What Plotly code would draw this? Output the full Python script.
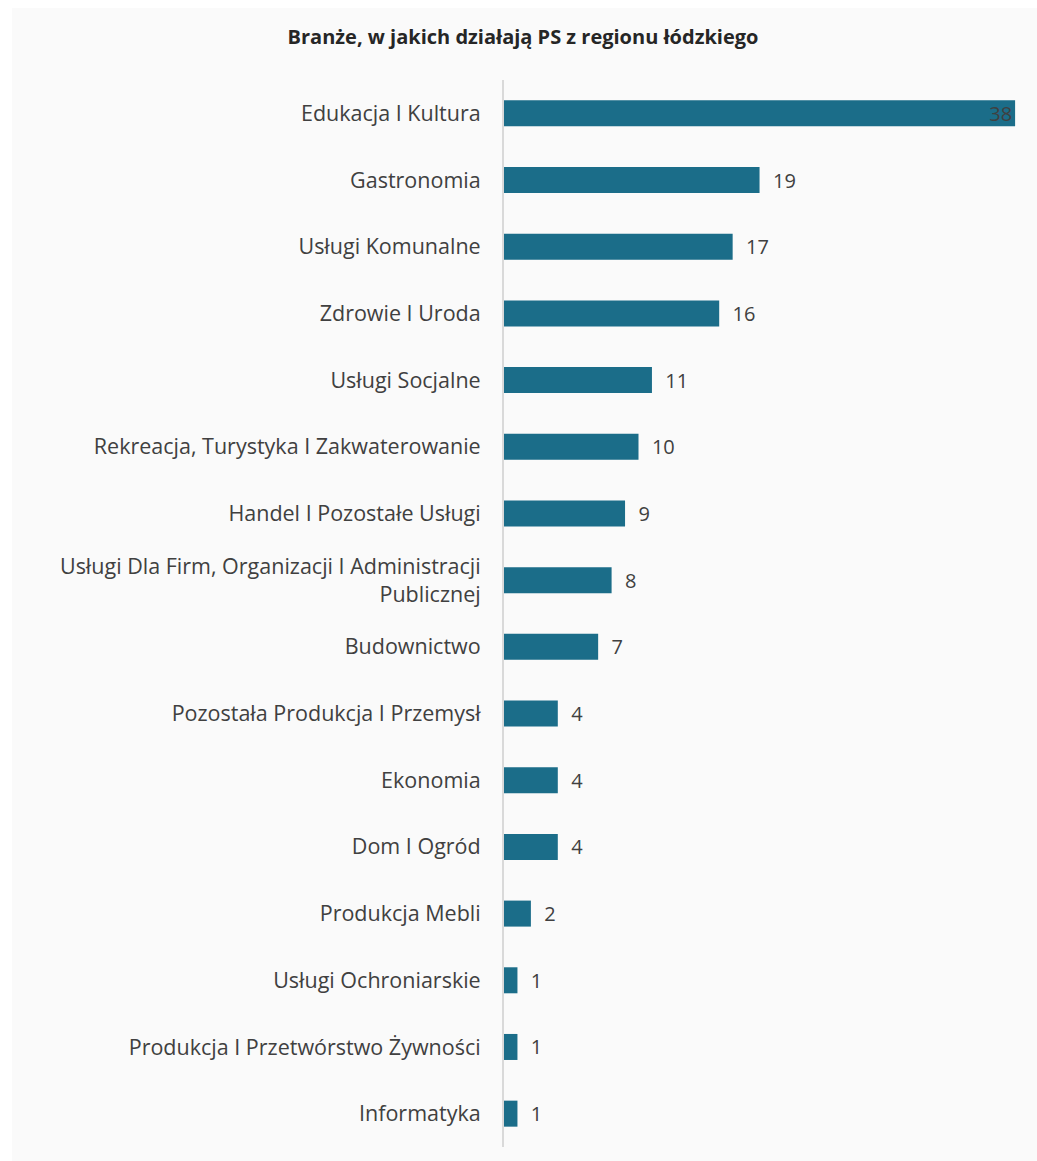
import plotly.graph_objects as go

categories = [
    "Edukacja I Kultura",
    "Gastronomia",
    "Usługi Komunalne",
    "Zdrowie I Uroda",
    "Usługi Socjalne",
    "Rekreacja, Turystyka I Zakwaterowanie",
    "Handel I Pozostałe Usługi",
    "Usługi Dla Firm, Organizacji I Administracji<br>Publicznej",
    "Budownictwo",
    "Pozostała Produkcja I Przemysł",
    "Ekonomia",
    "Dom I Ogród",
    "Produkcja Mebli",
    "Usługi Ochroniarskie",
    "Produkcja I Przetwórstwo Żywności",
    "Informatyka",
]
values = [38, 19, 17, 16, 11, 10, 9, 8, 7, 4, 4, 4, 2, 1, 1, 1]
title = "Branże, w jakich działają PS z regionu łódzkiego"

W, H = 1037, 1161
L, R, T, B = 504, 0, 80, 14
px_per_unit = 13.45
plot_w = W - L - R
plot_h = H - T - B

vmax = max(values)
label_pos = ["inside" if v == vmax else "outside" for v in values]
label_txt = [str(v) if v == vmax else "\u00a0\u00a0" + str(v) for v in values]

fig = go.Figure(go.Bar(
    x=values,
    y=list(range(len(categories))),
    orientation="h",
    marker=dict(color="#1b6d89", line=dict(width=0)),
    width=0.39,
    text=label_txt,
    textposition=label_pos,
    textangle=0,
    insidetextanchor="end",
    cliponaxis=False,
    textfont=dict(family="Open Sans", size=20, color="#404040"),
    insidetextfont=dict(family="Open Sans", size=20, color="#404040"),
    outsidetextfont=dict(family="Open Sans", size=20, color="#404040"),
    constraintext="none",
))

fig.update_layout(
    width=W, height=H,
    margin=dict(l=L, r=R, t=T, b=B, pad=0),
    paper_bgcolor="white",
    plot_bgcolor="#fafafa",
    showlegend=False,
    font=dict(family="Open Sans", size=21.5, color="#404040"),
    title=dict(
        text="<b>" + title + "</b>",
        x=523 / W, xref="container", xanchor="center",
        y=1 - 37 / H, yref="container", yanchor="middle",
        font=dict(family="Open Sans", size=20, color="#262626"),
    ),
    xaxis=dict(
        range=[0, plot_w / px_per_unit],
        showgrid=False, zeroline=False, showticklabels=False, showline=False,
    ),
    yaxis=dict(
        range=[len(categories) - 0.5, -0.5],
        tickmode="array",
        tickvals=list(range(len(categories))),
        ticktext=categories,
        showgrid=False, zeroline=False,
        showline=True, linecolor="#d9d9d9", linewidth=2,
        ticks="", ticklabelstandoff=17,
        tickfont=dict(family="Open Sans", size=21.5, color="#404040"),
    ),
    shapes=[dict(
        type="rect", xref="paper", yref="paper", layer="below",
        x0=(12 - L) / plot_w, x1=1.0,
        y0=(T + plot_h - H) / plot_h, y1=(T + plot_h - 8) / plot_h,
        fillcolor="#fafafa", line=dict(width=0),
    )],
)

fig.write_html(
    "out.html",
    config={"displayModeBar": False},
    post_script="document.body.style.margin='0';document.body.style.overflow='hidden';",
)
